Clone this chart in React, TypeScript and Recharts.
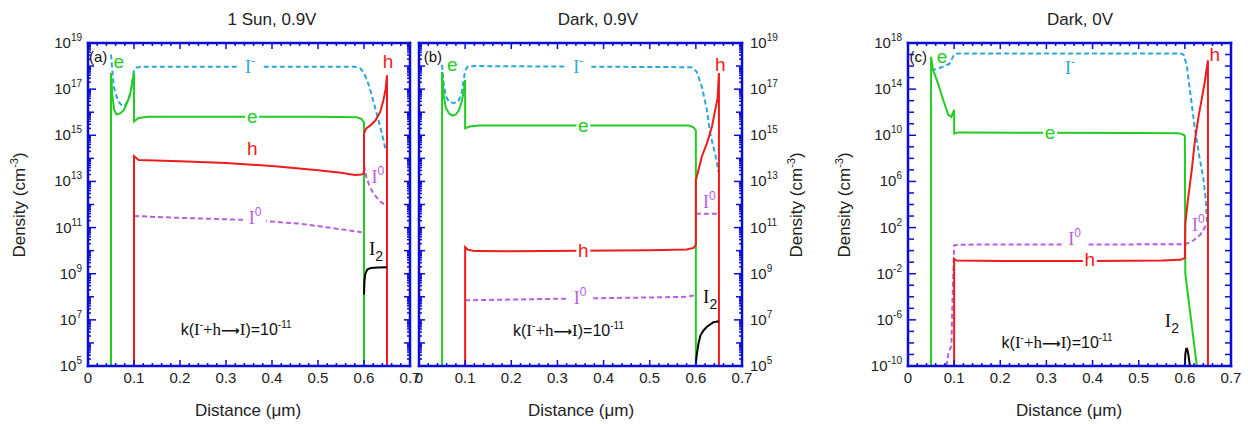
import React from "react";
import { LineChart, Line, XAxis, YAxis, ReferenceDot } from "recharts";

type Pt = [number, number];

// all densities are stored as log10(cm^-3), x in µm

// (a) 1 Sun, 0.9V
const sunElectron: Pt[] = [
  [0.05, 5], [0.05, 17.7], [0.053, 16.7], [0.057, 16.1], [0.062, 15.9], [0.07, 15.95],
  [0.078, 16.1], [0.087, 16.5], [0.093, 16.9], [0.097, 17.4], [0.1, 17.7], [0.1, 15.6],
  [0.11, 15.75], [0.13, 15.8], [0.3, 15.8], [0.5, 15.8], [0.585, 15.78], [0.595, 15.7],
  [0.6, 15.55], [0.6, 5],
];
const sunIodide: Pt[] = [
  [0.05, 18.5], [0.056, 17.1], [0.065, 16.5], [0.072, 16.33], [0.08, 16.27], [0.09, 16.67],
  [0.095, 17.1], [0.1, 17.8], [0.105, 17.93], [0.115, 17.97], [0.58, 17.97], [0.592, 17.9],
  [0.6, 17.7], [0.61, 17.2], [0.62, 16.5], [0.635, 15.4], [0.648, 14.3],
];
const sunHole: Pt[] = [
  [0.1, 5], [0.1, 14.1], [0.11, 13.93], [0.2, 13.88], [0.3, 13.8], [0.4, 13.67], [0.5, 13.48],
  [0.55, 13.38], [0.58, 13.28], [0.595, 13.3], [0.6, 13.35], [0.6, 15.1], [0.605, 15.3],
  [0.615, 15.45], [0.625, 15.65], [0.635, 16.0], [0.642, 16.5], [0.647, 17.0], [0.65, 17.6],
  [0.65, 5],
];
const sunIodine: Pt[] = [
  [0.1, 11.5], [0.2, 11.42], [0.3, 11.36], [0.35, 11.33], [0.46, 11.17], [0.53, 10.98],
  [0.595, 10.8],
];
const sunIodineRight: Pt[] = [
  [0.6, 13.7], [0.605, 13.2], [0.612, 12.8], [0.62, 12.5], [0.628, 12.3], [0.637, 12.1],
  [0.645, 12.0], [0.65, 11.95],
];
const sunI2: Pt[] = [
  [0.6, 8.1], [0.601, 8.7], [0.603, 9.0], [0.607, 9.18], [0.615, 9.25], [0.63, 9.27], [0.65, 9.28],
];

// (b) Dark, 0.9V
const darkElectron: Pt[] = [
  [0.05, 5], [0.05, 17.75], [0.053, 16.8], [0.058, 16.2], [0.065, 15.95], [0.072, 15.85],
  [0.08, 15.9], [0.087, 16.1], [0.093, 16.5], [0.097, 16.9], [0.1, 17.4], [0.1, 15.3],
  [0.11, 15.38], [0.13, 15.42], [0.4, 15.42], [0.585, 15.42], [0.595, 15.35], [0.6, 15.2],
  [0.6, 5],
];
const darkIodide: Pt[] = [
  [0.05, 18.05], [0.053, 17.3], [0.058, 16.7], [0.065, 16.45], [0.075, 16.4], [0.085, 16.45],
  [0.092, 16.8], [0.097, 17.4], [0.1, 17.8], [0.105, 17.97], [0.12, 18.0], [0.59, 17.95],
  [0.602, 17.75], [0.613, 17.1], [0.624, 16.1], [0.631, 15.1], [0.638, 14.5], [0.644, 14.0],
  [0.649, 13.4],
];
const darkHole: Pt[] = [
  [0.1, 5], [0.1, 10.15], [0.105, 10.05], [0.12, 9.98], [0.2, 9.97], [0.35, 10.0], [0.5, 10.02],
  [0.58, 10.05], [0.595, 10.12], [0.6, 10.25], [0.6, 13.05], [0.613, 14.08], [0.624, 14.65],
  [0.635, 15.38], [0.642, 16.1], [0.647, 16.6], [0.65, 17.7], [0.65, 5],
];
const darkIodine: Pt[] = [
  [0.1, 7.85], [0.2, 7.88], [0.35, 7.93], [0.5, 7.97], [0.58, 8.0], [0.6, 8.07],
];
const darkIodineRight: Pt[] = [[0.6, 11.6], [0.65, 11.6]];
const darkI2: Pt[] = [
  [0.6, 5.1], [0.602, 5.5], [0.606, 6.0], [0.61, 6.33], [0.617, 6.55], [0.624, 6.7],
  [0.638, 6.9], [0.65, 6.94],
];

// (c) Dark, 0V
const zeroElectron: Pt[] = [
  [0.05, -10], [0.05, 16.8], [0.054, 15.7], [0.065, 14.5], [0.076, 13.1], [0.087, 11.8],
  [0.094, 11.6], [0.098, 12.0], [0.1, 12.2], [0.1, 10.15], [0.11, 10.25], [0.3, 10.22],
  [0.5, 10.2], [0.585, 10.18], [0.595, 10.1], [0.6, 9.95], [0.601, -2.0], [0.626, -10],
];
const zeroIodide: Pt[] = [
  [0.05, 15.65], [0.063, 15.75], [0.076, 15.95], [0.09, 16.2], [0.095, 16.6], [0.1, 17.0],
  [0.11, 17.1], [0.59, 17.1], [0.597, 17.0], [0.604, 16.1], [0.611, 13.9], [0.622, 10.5],
  [0.632, 8.0], [0.64, 6.3], [0.645, 4.5], [0.648, 2.4],
];
const zeroHole: Pt[] = [
  [0.1, -10], [0.1, -0.7], [0.105, -0.85], [0.2, -0.9], [0.4, -0.9], [0.55, -0.85],
  [0.59, -0.8], [0.6, -0.65], [0.601, 2.4], [0.607, 4.5], [0.615, 7.0], [0.622, 9.6],
  [0.63, 11.7], [0.636, 13.0], [0.643, 14.6], [0.65, 16.5], [0.65, -10],
];
const zeroIodine: Pt[] = [
  [0.083, -10], [0.088, -8.85], [0.094, -8.27], [0.096, -5.0], [0.1, 0.46], [0.11, 0.52],
  [0.6, 0.55], [0.61, 0.7], [0.619, 0.9], [0.633, 1.36], [0.64, 1.8], [0.648, 2.37],
];
const zeroI2: Pt[] = [
  [0.6, -10], [0.601, -9.0], [0.603, -8.5], [0.605, -8.5], [0.608, -9.1], [0.611, -10],
];

const xLabels = ["0", "0.1", "0.2", "0.3", "0.4", "0.5", "0.6", "0.7"];
const yLabelsAB = [5, 7, 9, 11, 13, 15, 17, 19];
const yLabelsC = [-10, -6, -2, 2, 6, 10, 14, 18];

const BLUE = "#0c0cd8";
const GREEN = "#22cc22";
const RED = "#ee1c1c";
const CYAN = "#2aa8dc";
const PURPLE = "#b85ee0";
const SANS = "'Liberation Sans', Arial, sans-serif";
const SERIF = "'Liberation Serif', 'Times New Roman', serif";

const xTicks = Array.from({ length: 36 }, (_, i) => (i * 2) / 100);
const decadesAB = Array.from({ length: 15 }, (_, i) => 5 + i);
const yTicksAB = [
  ...decadesAB,
  ...decadesAB.slice(0, -1).flatMap((d) => [2, 3, 4, 5, 6, 7, 8, 9].map((k) => d + Math.log10(k))),
];
const yTicksC = Array.from({ length: 29 }, (_, i) => -10 + i);

const toData = (pts: Pt[]) => pts.map(([x, y]) => ({ x, y }));

const isWhole = (v: number, m: number) => Math.abs(v * m - Math.round(v * m)) < 1e-6;

function XTick(props: any) {
  const { x, y, payload, side, showLabel } = props;
  const v = payload.value as number;
  const major = isWhole(v, 10);
  const len = major ? 6 : 3;
  const dir = side === "bottom" ? -1 : 1;
  return (
    <g>
      <line x1={x} x2={x} y1={y} y2={y + dir * len} stroke={BLUE} strokeWidth={1.5} />
      {showLabel && major && (
        <text x={x} y={y + 17} textAnchor="middle" fontSize={15} fontFamily={SANS} fill="#222">
          {xLabels[Math.round(v * 10)]}
        </text>
      )}
    </g>
  );
}

function YTick(props: any) {
  const { x, y, payload, side, labels } = props;
  const v = payload.value as number;
  const decade = isWhole(v, 1);
  const labeled = decade && labels && labels.includes(Math.round(v));
  const len = labeled ? 8 : decade ? 6 : 3;
  const dir = side === "left" ? 1 : -1;
  return (
    <g>
      <line x1={x} x2={x + dir * len} y1={y} y2={y} stroke={BLUE} strokeWidth={1.5} />
      {labeled && (
        <text
          x={side === "left" ? x - 6 : x + 8}
          y={y + 5}
          textAnchor={side === "left" ? "end" : "start"}
          fontSize={15}
          fontFamily={SANS}
          fill="#222"
        >
          10
          <tspan dy={-7} fontSize={10}>
            {Math.round(v)}
          </tspan>
        </text>
      )}
    </g>
  );
}

type Note = { x: number; y: number; kind: string; color: string; bg?: boolean };

function noteShape(n: Note) {
  return (p: any) => {
    const { cx, cy } = p;
    if (cx == null || cy == null) return <g />;
    let body: React.ReactNode = null;
    let w = 14;
    let h = 18;
    if (n.kind === "e" || n.kind === "h") {
      body = (
        <text x={cx} y={cy + 6} textAnchor="middle" fontSize={19} fontFamily={SANS} fill={n.color}>
          {n.kind}
        </text>
      );
    } else if (n.kind === "I-" || n.kind === "I0") {
      w = 22;
      h = 20;
      body = (
        <text x={cx} y={cy + 6} textAnchor="middle" fontSize={18} fontFamily={SERIF} fill={n.color}>
          I
          <tspan dy={-8} fontSize={12} fontFamily={n.kind === "I-" ? SERIF : SANS}>
            {n.kind === "I-" ? "-" : "0"}
          </tspan>
        </text>
      );
    } else if (n.kind === "I2") {
      body = (
        <text x={cx} y={cy + 4} textAnchor="middle" fontSize={19} fontFamily={SERIF} fill={n.color}>
          I
          <tspan dy={6} fontSize={14} fontFamily={SANS}>
            2
          </tspan>
        </text>
      );
    } else if (n.kind === "k") {
      body = (
        <text x={cx} y={cy + 6} textAnchor="middle" fontSize={16} fontFamily={SANS} fill="#111">
          k(
          <tspan fontFamily={SERIF} fontSize={17}>I</tspan>
          <tspan dy={-7} fontSize={10}>-</tspan>
          <tspan dy={7} fontFamily={SERIF} fontSize={17}>+h</tspan>
          <tspan fontFamily="'DejaVu Sans'" fontWeight="bold" fontSize={13}>
            {"\u27F6"}
          </tspan>
          <tspan fontFamily={SERIF} fontSize={17}>I</tspan>
          )=10
          <tspan dy={-7} fontSize={10}>-11</tspan>
        </text>
      );
    } else {
      body = (
        <text x={cx} y={cy + 5} textAnchor="middle" fontSize={15} fontFamily={SANS} fill="#111">
          {n.kind}
        </text>
      );
    }
    return (
      <g>
        {n.bg && <rect x={cx - w / 2} y={cy - h / 2} width={w} height={h} fill="#fff" />}
        {body}
      </g>
    );
  };
}

type Series = { pts: Pt[]; color: string; dashed?: boolean };

type PanelProps = {
  left: number;
  width: number;
  margin: { top: number; right: number; bottom: number; left: number };
  yDomain: [number, number];
  yTicks: number[];
  yLabels: number[];
  labelSide: "left" | "right";
  series: Series[];
  notes: Note[];
};

function Panel(pp: PanelProps) {
  const axisLine = { stroke: BLUE, strokeWidth: 2.5, strokeLinecap: "square" as const };
  // axes are 1px thick; margins already hold the space for tick labels
  const m = {
    top: pp.margin.top - 1,
    bottom: pp.margin.bottom - 1,
    left: pp.margin.left - 1,
    right: pp.margin.right - 1,
  };
  return (
    <div style={{ position: "absolute", left: pp.left, top: 0 }}>
      <LineChart width={pp.width} height={424} margin={m}>
        <XAxis
          xAxisId="b"
          type="number"
          dataKey="x"
          domain={[0, 0.7]}
          ticks={xTicks}
          interval={0}
          height={1}
          tickSize={0}
          tickMargin={0}
          tickLine={false}
          axisLine={axisLine}
          allowDataOverflow
          tick={(p: any) => <XTick {...p} side="bottom" showLabel />}
        />
        <XAxis
          xAxisId="t"
          orientation="top"
          type="number"
          dataKey="x"
          domain={[0, 0.7]}
          ticks={xTicks}
          interval={0}
          height={1}
          tickSize={0}
          tickMargin={0}
          tickLine={false}
          axisLine={axisLine}
          allowDataOverflow
          tick={(p: any) => <XTick {...p} side="top" />}
        />
        <YAxis
          yAxisId="l"
          type="number"
          domain={pp.yDomain}
          ticks={pp.yTicks}
          interval={0}
          width={1}
          tickSize={0}
          tickMargin={0}
          tickLine={false}
          axisLine={axisLine}
          allowDataOverflow
          tick={(p: any) => (
            <YTick {...p} side="left" labels={pp.labelSide === "left" ? pp.yLabels : null} />
          )}
        />
        <YAxis
          yAxisId="r"
          orientation="right"
          type="number"
          domain={pp.yDomain}
          ticks={pp.yTicks}
          interval={0}
          width={1}
          tickSize={0}
          tickMargin={0}
          tickLine={false}
          axisLine={axisLine}
          allowDataOverflow
          tick={(p: any) => (
            <YTick {...p} side="right" labels={pp.labelSide === "right" ? pp.yLabels : null} />
          )}
        />
        {pp.series.map((s, i) => (
          <Line
            key={i}
            xAxisId="b"
            yAxisId="l"
            data={toData(s.pts)}
            dataKey="y"
            type="linear"
            stroke={s.color}
            strokeWidth={2}
            strokeDasharray={s.dashed ? "5 3" : undefined}
            dot={false}
            activeDot={false}
            isAnimationActive={false}
          />
        ))}
        {pp.notes.map((n, i) => (
          <ReferenceDot
            key={"n" + i}
            xAxisId="b"
            yAxisId="l"
            x={n.x}
            y={n.y}
            r={0}
            ifOverflow="visible"
            shape={noteShape(n)}
          />
        ))}
      </LineChart>
    </div>
  );
}

const notesA: Note[] = [
  { x: 0.022, y: 18.4, kind: "(a)", color: "#111" },
  { x: 0.067, y: 18.18, kind: "e", color: GREEN },
  { x: 0.352, y: 17.96, kind: "I-", color: CYAN, bg: true },
  { x: 0.652, y: 18.18, kind: "h", color: RED },
  { x: 0.357, y: 15.8, kind: "e", color: GREEN, bg: true },
  { x: 0.357, y: 14.4, kind: "h", color: RED },
  { x: 0.363, y: 11.4, kind: "I0", color: PURPLE, bg: true },
  { x: 0.63, y: 13.2, kind: "I0", color: PURPLE },
  { x: 0.626, y: 10.0, kind: "I2", color: "#111" },
  { x: 0.322, y: 6.6, kind: "k", color: "#111" },
];
const notesB: Note[] = [
  { x: 0.03, y: 18.4, kind: "(b)", color: "#111" },
  { x: 0.072, y: 18.05, kind: "e", color: GREEN },
  { x: 0.345, y: 17.98, kind: "I-", color: CYAN, bg: true },
  { x: 0.653, y: 18.05, kind: "h", color: RED },
  { x: 0.356, y: 15.42, kind: "e", color: GREEN, bg: true },
  { x: 0.356, y: 10.0, kind: "h", color: RED, bg: true },
  { x: 0.349, y: 7.95, kind: "I0", color: PURPLE, bg: true },
  { x: 0.629, y: 12.1, kind: "I0", color: PURPLE },
  { x: 0.631, y: 7.9, kind: "I2", color: "#111" },
  { x: 0.324, y: 6.56, kind: "k", color: "#111" },
];
const notesC: Note[] = [
  { x: 0.022, y: 16.8, kind: "(c)", color: "#111" },
  { x: 0.074, y: 16.8, kind: "e", color: GREEN },
  { x: 0.351, y: 15.8, kind: "I-", color: CYAN },
  { x: 0.665, y: 16.96, kind: "h", color: RED },
  { x: 0.308, y: 10.2, kind: "e", color: GREEN, bg: true },
  { x: 0.394, y: -0.84, kind: "h", color: RED, bg: true },
  { x: 0.361, y: 1.0, kind: "I0", color: PURPLE, bg: true },
  { x: 0.629, y: 2.2, kind: "I0", color: PURPLE },
  { x: 0.572, y: -6.3, kind: "I2", color: "#111" },
  { x: 0.323, y: -7.9, kind: "k", color: "#111" },
];

const seriesA: Series[] = [
  { pts: sunIodide, color: CYAN, dashed: true },
  { pts: sunIodine, color: PURPLE, dashed: true },
  { pts: sunIodineRight, color: PURPLE, dashed: true },
  { pts: sunElectron, color: GREEN },
  { pts: sunHole, color: RED },
  { pts: sunI2, color: "#000" },
];
const seriesB: Series[] = [
  { pts: darkIodide, color: CYAN, dashed: true },
  { pts: darkIodine, color: PURPLE, dashed: true },
  { pts: darkIodineRight, color: PURPLE, dashed: true },
  { pts: darkElectron, color: GREEN },
  { pts: darkHole, color: RED },
  { pts: darkI2, color: "#000" },
];
const seriesC: Series[] = [
  { pts: zeroIodide, color: CYAN, dashed: true },
  { pts: zeroIodine, color: PURPLE, dashed: true },
  { pts: zeroElectron, color: GREEN },
  { pts: zeroHole, color: RED },
  { pts: zeroI2, color: "#000" },
];

const centered = (x: number, y: number, extra: React.CSSProperties = {}): React.CSSProperties => ({
  position: "absolute",
  left: x,
  top: y,
  transform: "translate(-50%, -50%)",
  whiteSpace: "nowrap",
  fontSize: 17,
  lineHeight: "20px",
  color: "#222",
  ...extra,
});

const YLabel = ({ x }: { x: number }) => (
  <div style={centered(x, 205, { transform: "translate(-50%, -50%) rotate(-90deg)" })}>
    Density (cm<sup style={{ fontSize: 11, lineHeight: 0 }}>-3</sup>)
  </div>
);

export default function App() {
  return (
    <div
      style={{
        position: "absolute",
        left: 0,
        top: 0,
        width: 1248,
        height: 424,
        background: "#fff",
        fontFamily: SANS,
        overflow: "hidden",
      }}
    >
      <Panel
        left={0}
        width={420}
        margin={{ top: 43, right: 10, bottom: 58, left: 88 }}
        yDomain={[5, 19]}
        yTicks={yTicksAB}
        yLabels={yLabelsAB}
        labelSide="left"
        series={seriesA}
        notes={notesA}
      />
      <Panel
        left={410}
        width={420}
        margin={{ top: 43, right: 88, bottom: 58, left: 9 }}
        yDomain={[5, 19]}
        yTicks={yTicksAB}
        yLabels={yLabelsAB}
        labelSide="right"
        series={seriesB}
        notes={notesB}
      />
      <Panel
        left={830}
        width={418}
        margin={{ top: 43, right: 17, bottom: 58, left: 78 }}
        yDomain={[-10, 18]}
        yTicks={yTicksC}
        yLabels={yLabelsC}
        labelSide="left"
        series={seriesC}
        notes={notesC}
      />
      <div style={centered(272, 20)}>1 Sun, 0.9V</div>
      <div style={centered(598, 20)}>Dark, 0.9V</div>
      <div style={centered(1080, 20)}>Dark, 0V</div>
      <div style={centered(248, 411)}>Distance (μm)</div>
      <div style={centered(581, 411)}>Distance (μm)</div>
      <div style={centered(1069, 411)}>Distance (μm)</div>
      <YLabel x={20} />
      <YLabel x={797} />
      <YLabel x={845} />
    </div>
  );
}
